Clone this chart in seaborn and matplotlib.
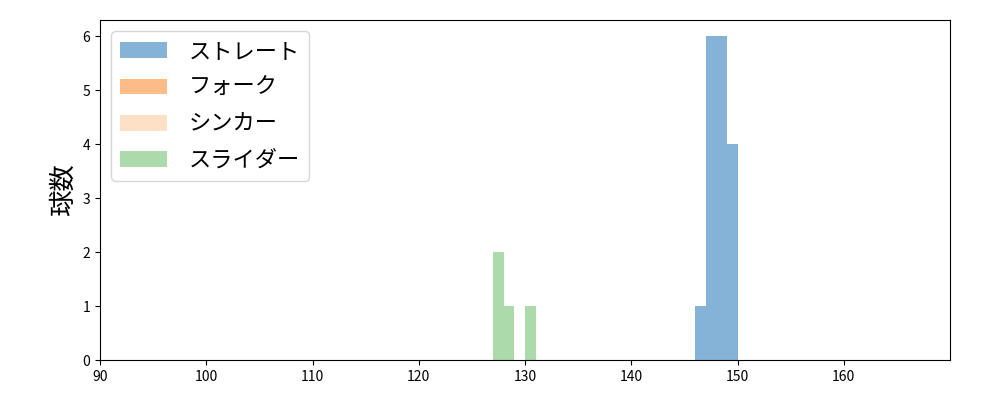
# plot.py
# 球種別の球速ヒストグラム
# ─────────────────────────────────────────────

import numpy as np
import pandas as pd
import matplotlib
matplotlib.use('Agg')
import matplotlib.pyplot as plt
import seaborn as sns
from matplotlib.patches import Patch

plt.rcParams['font.family'] = ['Noto Sans CJK JP', 'DejaVu Sans']

# ── Data ──────────────────────────────────────
pitch_types = ['ストレート', 'フォーク', 'シンカー', 'スライダー']
pitch_colors = ['#84b3d7', '#fdbb87', '#fde0c6', '#acdaab']

# bin centre (km/h) and count for each pitch type
straight_speed = [146.5, 147.5, 148.5, 149.5]
straight_count = [1, 6, 6, 4]
fork_speed = []
fork_count = []
sinker_speed = []
sinker_count = []
slider_speed = [127.5, 128.5, 130.5]
slider_count = [2, 1, 1]

speeds = [straight_speed, fork_speed, sinker_speed, slider_speed]
counts = [straight_count, fork_count, sinker_count, slider_count]

rows = []
for name, sp, ct in zip(pitch_types, speeds, counts):
    for s, c in zip(sp, ct):
        rows.append({'球種': name, '球速': s, '球数': c})
df = pd.DataFrame(rows)

# ── Chart ─────────────────────────────────────
fig, ax = plt.subplots(figsize=(10, 4), dpi=100)
fig.subplots_adjust(left=0.1, right=0.95, top=0.95, bottom=0.1)

for name, color in zip(pitch_types, pitch_colors):
    sub = df[df['球種'] == name]
    if len(sub) == 0:
        continue
    sns.histplot(
        data=sub, x='球速', weights='球数',
        binwidth=1, binrange=(90, 170),
        color=color, alpha=1,
        edgecolor='none', linewidth=0, ax=ax
    )

ax.set_xlim(90, 170)
ax.set_ylim(0, 6.3)
ax.set_xticks(np.arange(90, 170, 10))
ax.set_xlabel('')
ax.set_ylabel('球数', fontsize=19)

handles = [Patch(facecolor=c, edgecolor='none') for c in pitch_colors]
ax.legend(handles, pitch_types, loc='upper left', fontsize=16,
          handlelength=2.1, handleheight=0.72,
          handletextpad=1.0, labelspacing=0.6)

plt.savefig('out.png', dpi=100)
